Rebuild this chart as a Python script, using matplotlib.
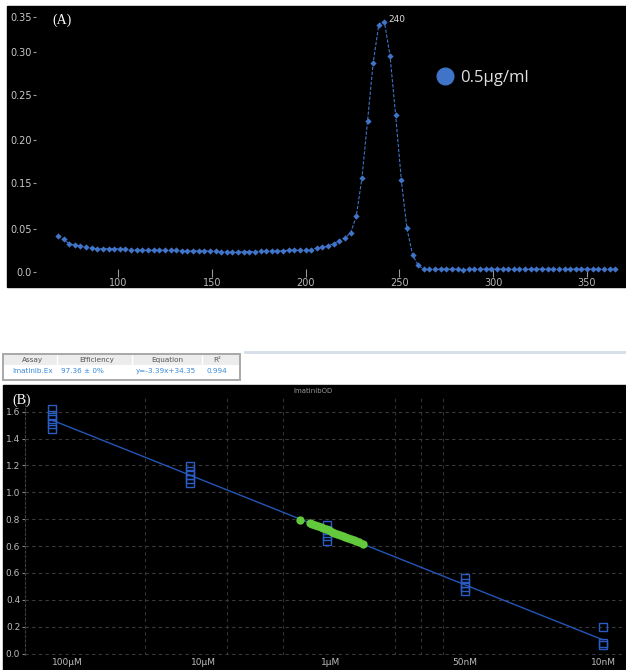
import numpy as np
import matplotlib
matplotlib.use("Agg")
import matplotlib.pyplot as plt
from matplotlib.patches import Rectangle
from matplotlib.lines import Line2D

# ---- (A) UV spectrum, 0.5 ug/ml ----
wavelength = np.arange(68, 366, 3)
absorbance = [
    0.050, 0.045, 0.039, 0.037, 0.036, 0.034, 0.033, 0.032, 0.032, 0.032,
    0.032, 0.032, 0.032, 0.031, 0.031, 0.030, 0.030, 0.030, 0.030, 0.030,
    0.030, 0.030, 0.029, 0.029, 0.029, 0.029, 0.029, 0.029, 0.029, 0.028,
    0.028, 0.027, 0.027, 0.028, 0.028, 0.028, 0.029, 0.029, 0.029, 0.029,
    0.029, 0.030, 0.030, 0.030, 0.030, 0.031, 0.033, 0.034, 0.036, 0.039,
    0.043, 0.047, 0.054, 0.077, 0.129, 0.208, 0.288, 0.341, 0.345, 0.298,
    0.216, 0.127, 0.060, 0.024, 0.009,
    0.004, 0.004, 0.004, 0.004, 0.004, 0.004, 0.004, 0.003, 0.004, 0.004,
    0.004, 0.004, 0.004, 0.004, 0.004, 0.004, 0.004, 0.004, 0.004, 0.004,
    0.004, 0.004, 0.004, 0.004, 0.004, 0.004, 0.004, 0.004, 0.004, 0.004,
    0.004, 0.004, 0.004, 0.004, 0.004,
]
peak_nm, peak_abs = 242, 0.345
a_yticks = [0.0, 0.059, 0.123, 0.182, 0.244, 0.303, 0.352]
a_ylabels = ["0.0", "0.05", "0.15", "0.20", "0.25", "0.30", "0.35"]
a_xticks = [100, 150, 200, 250, 300, 350]

# ---- (B) standard curve ----
dilution_labels = ["100µM", "10µM", "1µM", "50nM", "10nM"]
label_pos = [0.11, 1.10, 2.02, 3.0, 4.0]
std_step = [0, 0, 0, 0, 0, 1, 1, 1, 1, 1, 2, 2, 2, 2, 3, 3, 3, 3, 4, 4, 4]
std_od = [1.823, 1.775, 1.745, 1.708, 1.667,
          1.396, 1.358, 1.329, 1.299, 1.269,
          0.957, 0.920, 0.875, 0.838,
          0.563, 0.526, 0.496, 0.466,
          0.202, 0.080, 0.065]
sample_step = [1.80, 1.87, 1.89, 1.91, 1.93, 1.95, 1.97, 1.99, 2.01, 2.03, 2.05,
               2.07, 2.09, 2.11, 2.13, 2.15, 2.17, 2.19, 2.21, 2.23, 2.26]
sample_od = [0.995, 0.973, 0.965, 0.957, 0.949, 0.941, 0.932, 0.924, 0.916, 0.908, 0.900,
             0.892, 0.884, 0.875, 0.867, 0.859, 0.851, 0.843, 0.835, 0.827, 0.814]
b_yticks = [0.0, 0.2, 0.4, 0.6, 0.8, 1.0, 1.2, 1.4, 1.6, 1.8]
b_ylabels = ["0.0", "0.2", "0.4", "0.6", "0.6", "0.8", "1.0", "1.2", "1.4", "1.6"]
b_vgrid = [0.675, 1.27, 1.677, 2.49, 2.68, 2.84]

table_head = ["Assay", "Efficiency", "Equation", "R²"]
table_row = ["Imatinib.Ex", "97.36 ± 0%", "y=-3.39x+34.35", "0.994"]

W, H = 626, 670
BLUE = "#3f74c8"


def box(x0, y0, x1, y1):
    # pixel box (top-left origin) -> figure fraction rect
    return [x0 / W, 1 - y1 / H, (x1 - x0) / W, (y1 - y0) / H]


fig = plt.figure(figsize=(6.26, 6.70), dpi=100)
fig.patch.set_facecolor("white")
for b in [box(7, 6, 626, 287), box(3, 385, 626, 670)]:
    fig.patches.append(Rectangle((b[0], b[1]), b[2], b[3], transform=fig.transFigure,
                                 color="black", zorder=-10))

# ---------- panel A ----------
ax = fig.add_axes(box(36, 8, 624, 277))
ax.patch.set_visible(False)
for s in ax.spines.values():
    s.set_visible(False)
ax.plot(wavelength, absorbance, color=BLUE, lw=0.8, ls=(0, (3, 1.5)),
        marker="D", ms=3.2, mew=0)
ax.set_xlim(56.3, 369.7)
ax.set_ylim(-0.0069, 0.364)
ax.set_xticks(a_xticks)
ax.set_yticks(a_yticks)
ax.set_yticklabels(a_ylabels)
ax.tick_params(axis="x", direction="in", length=6, width=0.8, color="#999999",
               labelcolor="#b8b8b8", labelsize=7, pad=1)
ax.tick_params(axis="y", direction="out", length=2, width=0.8, color="#999999",
               labelcolor="#c8c8c8", labelsize=7, pad=1)
ax.annotate("240", xy=(peak_nm, peak_abs), xytext=(2.5, 1.5), textcoords="offset points",
            fontsize=6.5, color="#dddddd", va="center", ha="left")
leg = ax.legend(handles=[Line2D([], [], marker="o", ls="", ms=12, color=BLUE)],
                labels=["0.5µg/ml"], loc="center left",
                bbox_to_anchor=(436.7 / W, 1 - 78 / H), bbox_transform=fig.transFigure,
                frameon=False, borderpad=0, borderaxespad=0, handlelength=1,
                handletextpad=0.4, prop={"family": "Open Sans", "size": 12})
for t in leg.get_texts():
    t.set_color("#e0e0e0")
fig.text(62 / W, 1 - 20 / H, "(A)", family="Liberation Serif", fontsize=10,
         color="white", ha="center", va="center")

# ---------- table ----------
cols = [3, 57, 132, 202, 240]
head_c = [33, 97, 167, 217]
row_c = [33, 82, 166, 217]
fig.patches.append(Rectangle((3 / W, 1 - 365 / H), 237 / W, 11 / H, transform=fig.transFigure,
                             facecolor="#ececec", edgecolor="none", zorder=1))
fig.patches.append(Rectangle((3 / W, 1 - 380 / H), 237 / W, 26 / H, transform=fig.transFigure,
                             facecolor="none", edgecolor="#a8a8a8", lw=1.4, zorder=2))
for cx in cols[1:-1]:
    fig.add_artist(Line2D([cx / W, cx / W], [1 - 365 / H, 1 - 355 / H],
                          transform=fig.transFigure, color="#ffffff", lw=1))
fig.add_artist(Line2D([245 / W, 626 / W], [1 - 352 / H, 1 - 352 / H],
                      transform=fig.transFigure, color="#d4dde8", lw=2))
for txt, cx in zip(table_head, head_c):
    fig.text(cx / W, 1 - 360 / H, txt, fontsize=5.2, color="#555555", ha="center", va="center")
for txt, cx in zip(table_row, row_c):
    fig.text(cx / W, 1 - 371 / H, txt, fontsize=5.2, color="#3a8ad8", ha="center", va="center")

# ---------- panel B ----------
bx = fig.add_axes(box(25, 396, 622, 655))
bx.patch.set_visible(False)
for s in bx.spines.values():
    s.set_visible(False)
bx.spines["left"].set_visible(True)
bx.spines["left"].set_color("#3c3c3c")
bx.spines["left"].set_linestyle((0, (2, 2)))
bx.set_xlim(-0.196, 4.138)
bx.set_ylim(-0.0097, 1.916)
bx.set_yticks(b_yticks)
bx.set_yticklabels(b_ylabels)
bx.set_xticks(label_pos)
bx.set_xticklabels(dilution_labels)
bx.yaxis.grid(True, color="#3a3a3a", ls=(0, (3, 3)), lw=0.8)
for v in b_vgrid:
    bx.axvline(v, color="#333333", ls=(0, (3, 3)), lw=0.8, zorder=0)
bx.tick_params(axis="y", length=2, width=0.8, color="#888888", labelcolor="#bbbbbb",
               labelsize=6.5, pad=1.5)
bx.tick_params(axis="x", length=0, labelcolor="#bbbbbb", labelsize=6.5, pad=2)

slope, icpt = np.polyfit(std_step, std_od, 1)
fit_x = np.array([0, 4])
bx.plot(fit_x, slope * fit_x + icpt, color="#2456b8", lw=1, zorder=2)
bx.plot(std_step, std_od, ls="", marker="s", ms=6.2, mfc="none", mec="#2a5cc4",
        mew=1, zorder=3)
bx.plot(sample_step, sample_od, ls="", marker="o", ms=6, color="#62c83c", mew=0, zorder=4)

fig.text(313 / W, 1 - 391 / H, "ImatinibOD", fontsize=5, color="#999999",
         ha="center", va="center")
fig.text(22 / W, 1 - 400 / H, "(B)", family="Liberation Serif", fontsize=10,
         color="white", ha="center", va="center")

fig.savefig("out.png", dpi=100, facecolor="white")
